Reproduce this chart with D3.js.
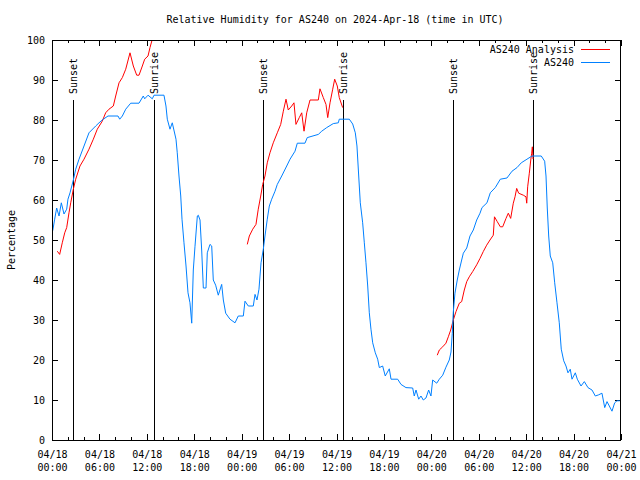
<!DOCTYPE html>
<html>
<head>
<meta charset="utf-8">
<script src="https://cdn.jsdelivr.net/npm/d3@7"></script>
<style>
  html, body { margin: 0; padding: 0; background: #fff; }
  svg { display: block; }
  text { font-family: "DejaVu Sans Mono", monospace; font-size: 10px; fill: #000; }
</style>
</head>
<body>
<svg id="chart" width="640" height="480"></svg>
<script>
// ---- Data (hours since 2024-04-18 00:00 UTC) ----
const titleText = "Relative Humidity for AS240 on 2024-Apr-18 (time in UTC)";
const yLabelText = "Percentage";
const seriesNames = ["AS240 Analysis", "AS240"];
const seriesColors = ["#ff0000", "#0080ff"];

const tickHours = [0, 6, 12, 18, 24, 30, 36, 42, 48, 54, 60, 66, 72];
const tickDates = ["04/18","04/18","04/18","04/18","04/19","04/19","04/19","04/19","04/20","04/20","04/20","04/20","04/21"];
const tickTimes = ["00:00","06:00","12:00","18:00","00:00","06:00","12:00","18:00","00:00","06:00","12:00","18:00","00:00"];
const yTicks = [0, 10, 20, 30, 40, 50, 60, 70, 80, 90, 100];

const sunHours = [2.70, 12.94, 26.74, 36.86, 50.74, 60.90];
const sunLabels = ["Sunset", "Sunrise", "Sunset", "Sunrise", "Sunset", "Sunrise"];
const sunLineTop = 85;

const blueTimes = [0.09,0.34,0.59,0.89,1.18,1.52,1.86,2.02,2.28,2.70,3.00,3.42,4.05,4.68,5.53,5.95,6.49,7.09,8.35,8.57,8.90,9.33,9.96,11.01,11.55,11.73,12.15,12.69,12.91,14.17,14.42,14.59,14.93,15.22,15.69,15.85,16.07,16.29,16.45,16.70,16.96,17.21,17.46,17.68,17.88,18.09,18.39,18.51,18.73,18.94,19.15,19.49,19.65,19.99,20.21,20.41,20.71,21.04,21.47,21.68,21.98,22.52,23.16,23.57,24.21,24.42,24.84,25.47,25.69,25.94,26.19,26.45,26.74,26.95,27.24,27.50,27.80,28.22,28.51,29.07,29.70,30.12,30.75,31.04,32.01,32.30,33.70,34.13,34.76,35.59,36.23,36.35,37.62,38.05,38.38,38.59,38.81,39.01,39.31,39.52,39.73,39.95,40.15,40.36,40.58,40.91,41.21,41.42,41.84,42.17,42.68,42.90,43.74,44.16,44.79,45.64,45.84,46.06,46.40,46.69,46.98,47.32,47.66,47.95,48.17,48.68,49.01,49.44,49.85,50.27,50.49,50.65,50.78,50.99,51.28,51.54,51.84,52.05,52.48,52.89,53.31,53.74,54.16,54.41,55.04,55.46,56.09,56.73,57.57,58.21,58.84,59.38,60.10,60.74,61.91,62.34,62.51,62.67,62.85,63.05,63.36,63.61,63.90,64.19,64.44,64.75,65.04,65.29,65.58,65.80,66.22,66.47,66.94,67.36,67.82,68.33,68.75,69.18,69.59,69.94,70.23,70.52,70.86,71.20,71.49,71.85];
const blueValues = [52.3,55.2,58,56,59.3,56.5,57.7,60.2,61.8,65,67.7,70.2,73.5,76.8,78.5,79.3,80.2,81,81,80.2,81,82.7,84.2,84.2,86,85.3,86.2,85.3,86.2,86.2,83.5,80.2,77.7,79.3,75.2,71.8,66,61,55.2,49.3,43.5,36.8,34.3,29.2,42.5,48.3,56,56.2,55,47.5,38,38,46.8,48.9,48.5,40,38.7,36.2,38.9,35,31.7,30.2,29.3,31,31,34.7,33.5,33.5,36.4,35,37.7,44.3,47.7,51,55.2,58.5,60.2,62.2,63.9,66,68.5,70.2,72.2,74.2,74.2,75.6,76.4,77.2,78.1,79.1,79.3,80.2,80.2,79,76.8,73.5,66,59.3,54.3,49.3,44.3,38.5,31.8,27.7,24.3,21.8,20.2,18.1,18.5,16,17.8,15.2,15.2,13.9,13.1,13,11,12.5,10.2,11,10,10.5,12.5,11,15,14.2,15.2,16.2,18.2,20,22,26.7,32,36.7,40,42.5,45,46.7,48,51,52.5,55,56.7,58.1,59.3,61.8,63.1,65.2,65.5,67.2,68.1,69.3,70.2,71,71,69.7,66,58,51,46,44.3,39.3,34.3,29.3,22.7,19.8,18.5,16.8,17.7,15.2,16.8,15.2,13.5,14.6,13.1,12.5,11,11.3,11.7,8.1,9.6,8.5,7.2,9.3,9.8,9.8];

// null entries separate the gaps of the analysis series
const redTimes = [0.67,0.97,1.30,1.61,1.86,2.15,2.37,2.70,3.00,3.54,4.05,4.68,5.23,5.73,6.36,6.79,7.21,7.76,8.06,8.48,8.90,9.33,9.87,10.29,10.72,11.01,11.43,11.73,12.15,12.40,12.69,12.91,
  null,
  24.71,24.97,25.40,25.81,26.10,26.41,26.66,26.95,27.24,27.58,28.00,28.51,28.94,29.27,29.61,29.90,30.33,30.62,30.87,31.29,31.60,31.89,32.23,32.65,33.70,33.91,34.33,34.67,34.89,35.18,35.52,35.77,36.10,36.35,36.78,
  null,
  48.75,49.01,49.44,49.85,50.15,50.45,50.78,51.12,51.54,51.84,52.17,52.48,52.80,53.23,53.74,54.16,54.57,55.00,55.42,55.84,55.99,56.34,56.73,57.03,57.45,57.74,58.04,58.37,58.59,58.80,59.05,59.64,59.98,60.07,60.19,60.40,60.58,60.70,60.78,60.87];
const redValues = [47.2,46.4,49.3,51.8,53.1,56.8,59.3,62.7,65.2,68.5,70.2,72.7,75.2,77.7,79.7,81.8,82.7,83.5,86,89.3,90.6,92.7,96.8,93.5,91.2,91.2,93.5,95.2,96,98.1,100.2,102,
  null,
  48.9,51,52.7,53.9,57.7,61,63.9,66,69.3,71.8,74.3,76.8,78.9,82.2,85.2,82.5,83.5,84.3,78.9,80.6,81.8,77.2,81.8,85,85,87.8,85.6,83.9,80.6,84.3,87.7,90.2,88.5,85.6,83.1,
  null,
  21.2,22.5,23.3,24.2,25.8,27.5,30,32.1,34.2,34.6,37.5,39.6,40.8,42.1,43.8,45.4,47.1,48.7,50,51.2,55.8,54.6,53.3,53.3,55.4,56.7,55.4,59.2,60.8,62.9,61.7,61.2,60.8,59.2,63.3,66.7,70,71.7,73.3,70.2];

// ---- Drawing ----
const svg = d3.select("#chart");
const L = 52, R = 621, T = 40, B = 440;
const x = d3.scaleLinear().domain([0, 72]).range([L, R]);
const y = d3.scaleLinear().domain([0, 100]).range([B, T]);

svg.append("defs").append("clipPath").attr("id", "plotclip")
  .append("rect").attr("x", L).attr("y", T).attr("width", R - L).attr("height", B - T);

// title and y label
svg.append("text").attr("x", 335).attr("y", 23).attr("text-anchor", "middle").text(titleText);
svg.append("text").attr("transform", "translate(15,240) rotate(-90)")
  .attr("text-anchor", "middle").text(yLabelText);

const minorHours = d3.range(0, 73, 2).filter(h => h % 6 !== 0);

// axes (ticks pointing inward)
const gLeft = svg.append("g").attr("transform", `translate(${L},0)`)
  .call(d3.axisLeft(y).tickValues(yTicks).tickSize(-6).tickPadding(7).tickFormat(d3.format("d")));
const gRight = svg.append("g").attr("transform", `translate(${R},0)`)
  .call(d3.axisRight(y).tickValues(yTicks).tickSize(-6).tickFormat(""));
const gBottom = svg.append("g").attr("transform", `translate(0,${B})`)
  .call(d3.axisBottom(x).tickValues(tickHours).tickSize(-6).tickFormat(""));
const gBottomMinor = svg.append("g").attr("transform", `translate(0,${B})`)
  .call(d3.axisBottom(x).tickValues(minorHours).tickSize(-3).tickFormat(""));
const gTop = svg.append("g").attr("transform", `translate(0,${T})`)
  .call(d3.axisTop(x).tickValues(tickHours).tickSize(-6).tickFormat(""));
const gTopMinor = svg.append("g").attr("transform", `translate(0,${T})`)
  .call(d3.axisTop(x).tickValues(minorHours).tickSize(-3).tickFormat(""));

[gLeft, gRight, gBottom, gBottomMinor, gTop, gTopMinor].forEach(g => {
  g.select(".domain").remove();
  g.selectAll(".tick line").attr("stroke", "#000").attr("shape-rendering", "crispEdges");
  g.selectAll(".tick text").attr("font-family", "DejaVu Sans Mono, monospace").attr("font-size", 10).attr("fill", "#000");
});
gLeft.selectAll(".tick text").attr("dy", "0.35em");

// two-line x tick labels
gBottom.selectAll(".tick").each(function(d, i) {
  const t = d3.select(this).append("text")
    .attr("text-anchor", "middle").attr("font-family", "DejaVu Sans Mono, monospace")
    .attr("font-size", 10).attr("fill", "#000");
  t.append("tspan").attr("x", 0).attr("y", 18).text(tickDates[i]);
  t.append("tspan").attr("x", 0).attr("y", 31).text(tickTimes[i]);
});

// sunrise / sunset lines
const gSun = svg.append("g");
sunHours.forEach((h, i) => {
  gSun.append("line")
    .attr("x1", Math.round(x(h)) + 0.5).attr("x2", Math.round(x(h)) + 0.5)
    .attr("y1", y(0)).attr("y2", y(sunLineTop))
    .attr("stroke", "#000").attr("stroke-width", 1);
  gSun.append("text")
    .attr("transform", `translate(${x(h) + 4},${y(sunLineTop) - 6}) rotate(-90)`)
    .attr("text-anchor", "start").text(sunLabels[i]);
});

// data lines
const blueData = blueTimes.map((t, i) => [t, blueValues[i]]);
const redData = redTimes.map((t, i) => [t, redValues[i]]);
const line = d3.line().defined(d => d[0] !== null && d[1] !== null)
  .x(d => x(d[0])).y(d => y(d[1]));

const gData = svg.append("g").attr("clip-path", "url(#plotclip)");
gData.append("path").datum(redData).attr("d", line)
  .attr("fill", "none").attr("stroke", seriesColors[0]).attr("stroke-width", 1);
gData.append("path").datum(blueData).attr("d", line)
  .attr("fill", "none").attr("stroke", seriesColors[1]).attr("stroke-width", 1);

// border
svg.append("rect").attr("x", L + 0.5).attr("y", T + 0.5)
  .attr("width", R - L - 1).attr("height", B - T)
  .attr("fill", "none").attr("stroke", "#000").attr("shape-rendering", "crispEdges");

// legend
const legendY = [49.5, 62.5];
seriesNames.forEach((name, i) => {
  svg.append("text").attr("x", 574).attr("y", legendY[i]).attr("dy", "0.35em")
    .attr("text-anchor", "end").text(name);
  svg.append("line").attr("x1", 581).attr("x2", 610)
    .attr("y1", legendY[i]).attr("y2", legendY[i])
    .attr("stroke", seriesColors[i]).attr("stroke-width", 1);
});
</script>
</body>
</html>
